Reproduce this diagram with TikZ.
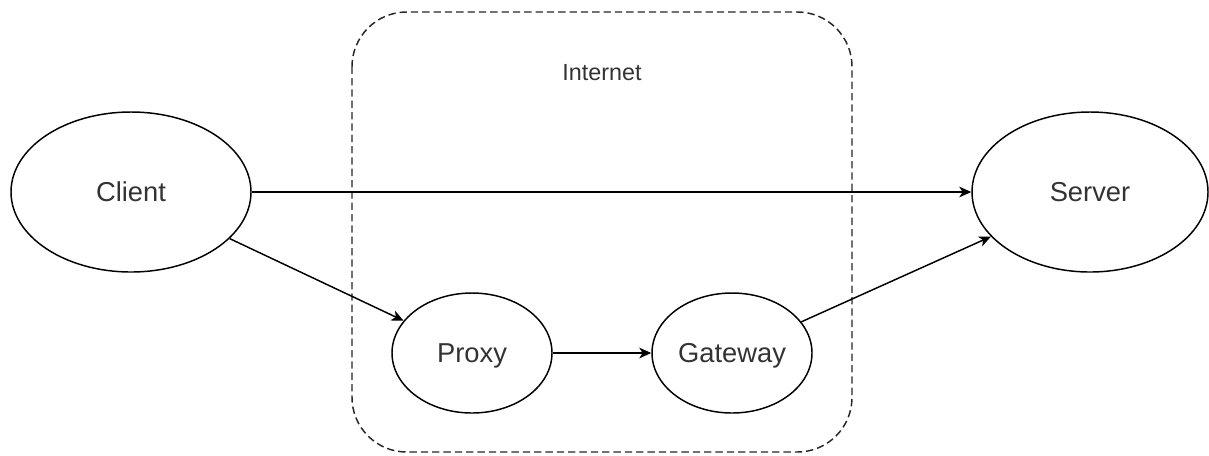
\documentclass[tikz,border=0pt]{standalone}
\usepackage{fontspec}
\setmainfont{Liberation Sans}
\usetikzlibrary{arrows.meta,shapes.geometric}
\begin{document}
\begin{tikzpicture}[x=0.75pt,y=-0.75pt,
  ent/.style={ellipse,draw=black,line width=1.1pt,inner sep=0pt,
    text=black!80,font=\fontsize{20.5}{24}\selectfont,
    text height=14.8pt,text depth=0pt},
  conn/.style={draw=black,line width=1.1pt,
    -{Stealth[length=9pt,width=8pt,inset=2.5pt]}},
  zone/.style={draw=black!85,line width=1.1pt,dash pattern=on 5.5pt off 3pt,
    rounded corners=41pt}]
\useasboundingbox (0,0) rectangle (1209,455);
\draw[zone] (352,12) rectangle (852,452);
\node[anchor=base,text=black!80,font=\fontsize{17.5}{21}\selectfont] (internet) at (602,80) {Internet};
\node[ent,minimum width=180pt,minimum height=120pt] (client) at (131,192) {Client};
\node[ent,minimum width=177pt,minimum height=120pt] (server) at (1090,192) {Server};
\node[ent,minimum width=120pt,minimum height=90pt] (proxy) at (472,353) {Proxy};
\node[ent,minimum width=120pt,minimum height=90pt] (gateway) at (732,353) {Gateway};
\draw[conn] (client) -- (server);
\draw[conn] (client) -- (proxy);
\draw[conn] (proxy) -- (gateway);
\draw[conn] (gateway) -- (server);
\end{tikzpicture}
\end{document}
